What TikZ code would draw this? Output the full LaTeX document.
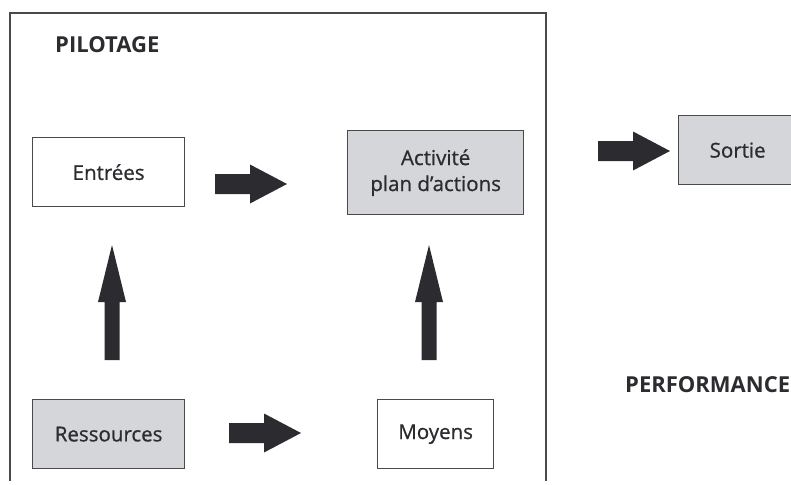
\documentclass[tikz,border=0pt]{standalone}
\usepackage{fontspec}
\setmainfont{Open Sans}
\newfontfamily\bodyfont{Open Sans}[BoldFont={Open Sans}, BoldFeatures={FakeBold=0.8}]
\definecolor{boxgray}{HTML}{D5D6D9}
\definecolor{linegray}{HTML}{4A4A4C}
\definecolor{ink}{HTML}{2B2B30}
\tikzset{
  box/.style={draw=linegray, line width=1.3pt, text=ink, font=\bodyfont\bfseries\fontsize{20.5}{26}\selectfont, align=center, inner sep=0pt, anchor=north west},
  grayfill/.style={fill=boxgray},
  arrowfill/.style={fill=ink},
  title/.style={text=ink, font=\bfseries\fontsize{22}{26}\selectfont, inner sep=0pt},
  frame/.style={draw=linegray, line width=1.3pt}
}
\begin{document}
\begin{tikzpicture}[x=1pt,y=-1pt]
\useasboundingbox (0,0) rectangle (791,484);
\clip (0,0) rectangle (791,484);
% frame (open at the bottom)
\coordinate (fbl) at (10,481);
\coordinate (ftl) at (10,13);
\coordinate (ftr) at (546,13);
\coordinate (fbr) at (546,481);
\draw[frame] (fbl) -- (ftl) -- (ftr) -- (fbr);
% titles
\node[title, anchor=west] (pil) at (55,45) {PILOTAGE};
\node[title, anchor=west] (perf) at (625,385) {PERFORMANCE};
% boxes
\node[box, minimum width=152pt, minimum height=69pt] (entrees) at (32,137) {Entrées};
\node[box, grayfill, minimum width=176pt, minimum height=84pt] (activite) at (347,130) {Activité\\plan d’actions};
\node[box, grayfill, minimum width=118pt, minimum height=69pt] (sortie) at (678,115) {Sortie};
\node[box, grayfill, minimum width=152pt, minimum height=69pt] (ressources) at (32,399) {Ressources};
\node[box, minimum width=116pt, minimum height=69pt] (moyens) at (377,399) {Moyens};
% horizontal block arrows
\coordinate (h1) at (215,184);
\coordinate (h2) at (229,433);
\coordinate (h3) at (598,151);
\foreach \c in {h1,h2,h3}{
  \fill[arrowfill] (\c) ++(0,-10) -- ++(35,0) -- ++(0,-9.5) -- ++(37,19.5) -- ++(-37,19.5) -- ++(0,-9.5) -- ++(-35,0) -- cycle;
}
% vertical block arrows
\coordinate (v1) at (112,360);
\coordinate (v2) at (429,360);
\foreach \c in {v1,v2}{
  \fill[arrowfill] (\c) ++(-7.5,0) -- ++(0,-58) -- ++(-6.5,0) -- ++(14,-57) -- ++(14,57) -- ++(-6.5,0) -- ++(0,58) -- cycle;
}
\end{tikzpicture}
\end{document}
